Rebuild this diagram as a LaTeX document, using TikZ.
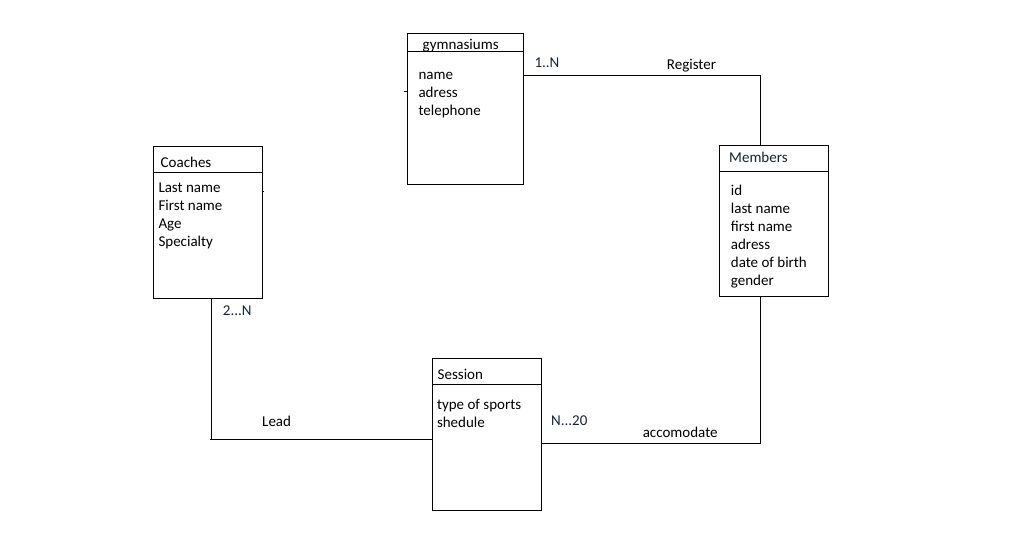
\documentclass[tikz,border=0pt]{standalone}
\usepackage{fontspec}
\setmainfont{Carlito}
\definecolor{navy}{HTML}{14233A}
\begin{document}
\begin{tikzpicture}[x=1pt,y=-1pt,
  box/.style={draw=black,line width=1pt,rectangle,inner sep=0pt,outer sep=0pt,anchor=north west},
  txt/.style={anchor=base west,inner sep=0pt,font=\fontsize{15}{18}\selectfont,text=black},
  card/.style={txt,text=navy},
  conn/.style={draw=black,line width=1pt},
  tick/.style={draw=black,line width=0.8pt}]
\useasboundingbox[fill=white] (0,0) rectangle (1013,541);

% entity boxes
\node[box,minimum width=116pt,minimum height=151pt] (gym) at (407.5,33.5) {};
\node[box,minimum width=109pt,minimum height=152pt] (coach) at (153.5,146.5) {};
\node[box,minimum width=109pt,minimum height=151pt] (mem) at (719.5,145.5) {};
\node[box,minimum width=109pt,minimum height=152pt] (sess) at (432.5,358.5) {};

% header separators
\draw[conn] (gym.west |- 0,51.5) -- (gym.east |- 0,51.5);
\draw[conn] (coach.west |- 0,172.5) -- (coach.east |- 0,172.5);
\draw[conn] (mem.west |- 0,171.5) -- (mem.east |- 0,171.5);
\draw[conn] (sess.west |- 0,384.5) -- (sess.east |- 0,384.5);

% titles
\node[txt] (tgym) at (422.5,49) {gymnasiums};
\node[txt] (tcoach) at (160.5,167.5) {Coaches};
\node[card] (tmem) at (729,162.5) {Members};
\node[txt] (tsess) at (437.5,379.3) {Session};

% attributes
\node[txt] (g1) at (418.3,79) {name};
\node[txt] (g2) at (418.3,97) {adress};
\node[txt] (g3) at (418.3,115) {telephone};

\node[txt] (c1) at (158.3,192.3) {Last name};
\node[txt] (c2) at (158.3,210.3) {First name};
\node[txt] (c3) at (158.3,228.3) {Age};
\node[txt] (c4) at (158.3,246.3) {Specialty};

\node[txt] (m1) at (730.7,195) {id};
\node[txt] (m2) at (730.7,213) {last name};
\node[txt] (m3) at (730.7,231) {first name};
\node[txt] (m4) at (730.7,249) {adress};
\node[txt] (m5) at (730.7,267) {date of birth};
\node[txt] (m6) at (730.7,285) {gender};

\node[txt] (s1) at (436.8,409.3) {type of sports};
\node[txt] (s2) at (436.8,427.3) {shedule};

% connectors
\coordinate (regc) at (760.5,75.5);
\draw[conn] (gym.east |- regc) -- (regc) -- (regc |- mem.north);
\coordinate (leadc) at (211.5,439.5);
\draw[conn] (leadc |- coach.south) -- (leadc) -- (leadc -| sess.west);
\draw[conn] (leadc) -- ++(-1.5,0);
\coordinate (accc) at (760.5,443.5);
\draw[conn] (accc -| sess.east) -- (accc) -- (accc |- mem.south);

% small ticks
\draw[tick] (gym.west |- 0,91.5) -- ++(-3.5,0);
\draw[tick] (coach.east |- 0,191.5) -- ++(0.8,0);

% labels
\node[card] (l1) at (534.3,67.3) {1..N};
\node[txt] (l2) at (666.7,69) {Register};
\node[card] (l3) at (222.7,315.7) {2...N};
\node[txt] (l4) at (262,426) {Lead};
\node[card] (l5) at (551,425.3) {N...20};
\node[txt] (l6) at (642.6,437.7) {accomodate};
\end{tikzpicture}
\end{document}
